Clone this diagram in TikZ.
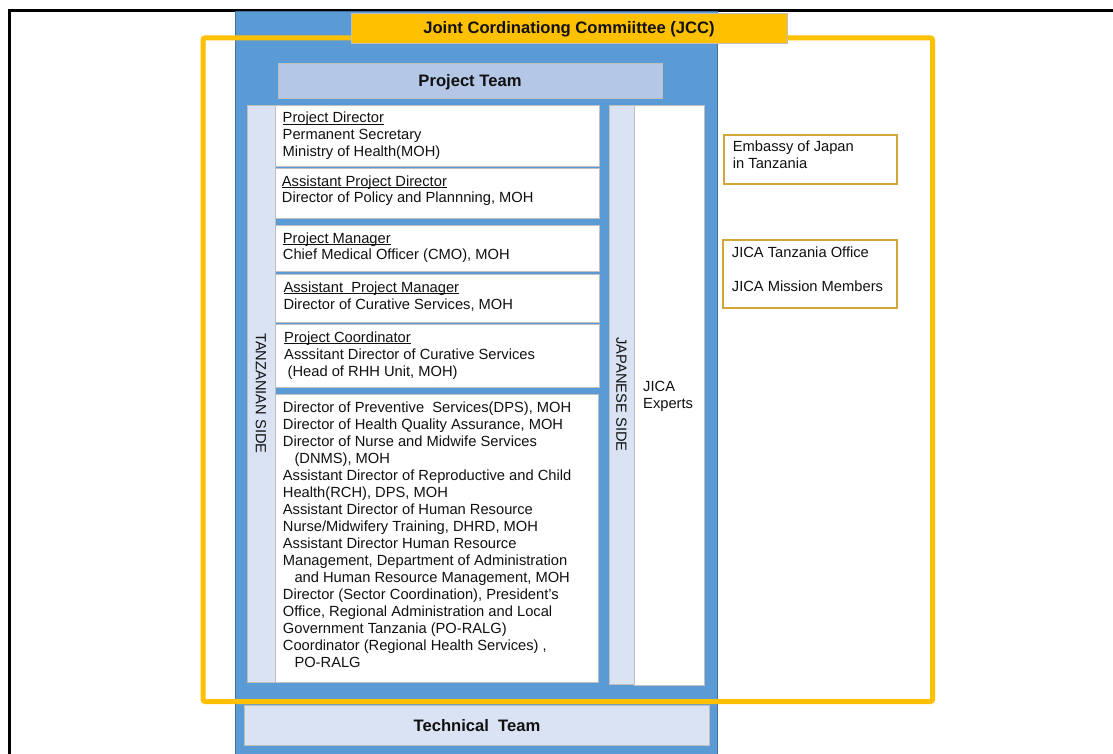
\documentclass[tikz,border=0pt]{standalone}
\usepackage{fontspec}
\setmainfont{Liberation Sans}
\definecolor{cblue}{HTML}{5B9BD5}
\definecolor{cbluedark}{HTML}{41719C}
\definecolor{cpt}{HTML}{B4C7E7}
\definecolor{clight}{HTML}{DAE3F3}
\definecolor{cgray}{HTML}{BFBFBF}
\definecolor{cyellow}{HTML}{FFC000}
\definecolor{cgold}{HTML}{D4A537}
\definecolor{ctext}{HTML}{111111}
\newsavebox\ulbox
\newcommand\undl[1]{\leavevmode\sbox\ulbox{#1}\rlap{\rule[-1.7pt]{\wd\ulbox}{0.75pt}}\usebox\ulbox}
\newcommand\tlines[2]{\parbox[t]{#1}{\raggedright\fontsize{14.7}{17}\selectfont #2}}
\begin{document}
\begin{tikzpicture}[x=1pt,y=-1pt,
  blueback/.style={fill=cblue,draw=cbluedark,line width=0.8pt},
  stripbox/.style={fill=clight,draw=cgray,line width=0.8pt},
  whitebox/.style={fill=white,draw=cgray,line width=0.8pt},
  ptbox/.style={fill=cpt,draw=cgray,line width=0.8pt},
  goldbox/.style={fill=white,draw=cgold,line width=1.5pt},
  jccbox/.style={fill=cyellow,draw=cgray,line width=0.6pt},
  txt/.style={anchor=base west,inner sep=0pt,text=ctext},
  title/.style={anchor=base,inner sep=0pt,text=ctext,font=\fontsize{16.6}{20}\selectfont\bfseries},
  vtext/.style={rotate=-90,inner sep=0pt,text=ctext,font=\fontsize{14.7}{17}\selectfont}
]
\useasboundingbox (0,0) rectangle (1113,754);
\clip (0,0) rectangle (1113,754);
\fill[white] (0,0) rectangle (1113,754);
% outer black frame
\draw[black,line width=3pt] (9.7,770) -- (9.7,10.3) -- (1125,10.3);
% blue background
\draw[blueback] (235,11) rectangle (717,770);
% project team
\draw[ptbox] (278,63) rectangle (662,98);
\node[title] (ptt) at (470,87) {Project Team};
% tanzanian side
\draw[stripbox] (247,105) rectangle (275,682);
\node[vtext] (tzs) at (261,393.5) {TANZANIAN SIDE};
\draw[whitebox] (275,105) rectangle (599,166);
\draw[whitebox] (275,168) rectangle (599,218);
\draw[whitebox] (275,225) rectangle (599,271);
\draw[whitebox] (275,274) rectangle (599,322);
\draw[whitebox] (275,324) rectangle (599,387);
\draw[whitebox] (275,394) rectangle (598,682);
\node[txt] (t1) at (282.5,123) {\tlines{310pt}{\undl{Project Director}\\Permanent Secretary\\Ministry of Health(MOH)}};
\node[txt] (t2) at (281.7,186) {\tlines{310pt}{\undl{Assistant Project Director}\\Director of Policy and Plannning, MOH}};
\node[txt] (t3) at (282.7,243) {\tlines{310pt}{\undl{Project Manager}\\Chief Medical Officer (CMO), MOH}};
\node[txt] (t4) at (283.3,292) {\tlines{310pt}{\undl{Assistant\ \ Project Manager}\\Director of Curative Services, MOH}};
\node[txt] (t5) at (284,342) {\tlines{310pt}{\undl{Project Coordinator}\\Asssitant Director of Curative Services\\\hspace*{3.5pt}(Head of RHH Unit, MOH)}};
\node[txt] (t6) at (282.7,412) {\tlines{312pt}{Director of Preventive\ \ Services(DPS), MOH\\
Director of Health Quality Assurance, MOH\\
Director of Nurse and Midwife Services\\
\hspace*{11.6pt}(DNMS), MOH\\
Assistant Director of Reproductive and Child\\
Health(RCH), DPS, MOH\\
Assistant Director of Human Resource\\
Nurse/Midwifery Training, DHRD, MOH\\
Assistant Director Human Resource\\
Management, Department of Administration\\
\hspace*{11.6pt}and Human Resource Management, MOH\\
Director (Sector Coordination), President's\\
Office, Regional Administration and Local\\
Government Tanzania (PO-RALG)\\
Coordinator (Regional Health Services) ,\\
\hspace*{11.6pt}PO-RALG}};
% japanese side
\draw[stripbox] (609,105) rectangle (635,684);
\node[vtext] (jps) at (621.5,394.5) {JAPANESE SIDE};
\draw[whitebox] (634,105) rectangle (704,685);
\node[txt] (jex) at (643,391) {\tlines{60pt}{JICA\\Experts}};
% technical team
\draw[stripbox] (244,705) rectangle (709,745);
\node[title] (tt) at (477,731) {Technical\ \ Team};
% japanese partners
\draw[goldbox] (724,135) rectangle (897,184);
\node[txt] (emb) at (732.7,152) {\tlines{160pt}{Embassy of Japan\\in Tanzania}};
\draw[goldbox] (723,240) rectangle (897,308);
\node[txt] (jica) at (731.7,257.5) {\tlines{165pt}{JICA Tanzania Office\\[17pt]JICA Mission Members}};
% JCC yellow frame
\draw[cyellow,line width=5pt,rounded corners=2pt] (203,38) rectangle (932.5,701.5);
\draw[jccbox] (351,13) rectangle (787,43);
\node[title] (jcc) at (569,33.5) {Joint Cordinationg Commiittee (JCC)};
\end{tikzpicture}
\end{document}
